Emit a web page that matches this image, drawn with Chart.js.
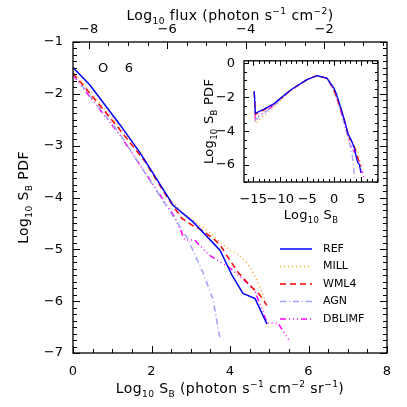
<!DOCTYPE html>
<html>
<head>
<meta charset="utf-8">
<script src="https://cdn.jsdelivr.net/npm/chart.js@4.4.1/dist/chart.umd.min.js"></script>
<style>
html, body { margin: 0; padding: 0; background: #fff; }
#wrap { position: relative; width: 407px; height: 407px; }
#main { position: absolute; left: 0; top: 0; width: 407px; height: 407px; }
#inset { position: absolute; left: 190px; top: 44px; width: 200px; height: 185px; }
</style>
</head>
<body>
<div id="wrap">
  <canvas id="main" width="407" height="407"></canvas>
  <canvas id="inset" width="200" height="185"></canvas>
</div>
<script>
// series (log10 S_B, log10 PDF)
const seriesNames = ["REF", "MILL", "WML4", "AGN", "DBLIMF"];

const refX = [0, 0.43, 1.2, 1.71, 2.47, 2.55, 3.06, 3.75, 4.05, 4.33, 4.64, 4.94];
const refY = [-1.49, -1.83, -2.6, -3.14, -4.05, -4.15, -4.47, -5.02, -5.5, -5.85, -5.95, -6.44];

const millX = [0, 0.77, 1.2, 1.83, 2.42, 2.8, 3.06, 3.41, 3.75, 4.0, 4.25, 4.51, 4.68, 4.89];
const millY = [-1.57, -2.25, -2.65, -3.26, -4.0, -4.3, -4.45, -4.63, -4.86, -5.02, -5.11, -5.34, -5.59, -5.98];

const wml4X = [0, 0.77, 1.2, 1.83, 2.42, 2.77, 3.02, 3.28, 3.62, 3.75, 3.92, 4.2, 4.5, 4.76, 4.94];
const wml4Y = [-1.6, -2.3, -2.7, -3.3, -4.02, -4.4, -4.53, -4.63, -4.82, -4.92, -5.12, -5.44, -5.69, -5.88, -6.08];

const agnX = [0, 1.2, 2.0, 2.6, 2.93, 3.1, 3.32, 3.57, 3.75];
const agnY = [-1.62, -2.78, -3.72, -4.42, -4.8, -5.1, -5.46, -5.97, -6.75];

const dblimfX = [0, 1.2, 1.96, 2.6, 2.85, 3.1, 3.45, 4.0, 4.6, 4.84, 4.94, 5.22, 5.5];
const dblimfY = [-1.64, -2.8, -3.66, -4.39, -4.82, -4.82, -5.1, -5.36, -5.75, -6.2, -6.42, -6.42, -6.75];

// negative S_B part, only seen in the inset
const lowX = [-14.8, -14.6, -13, -11.2, -8.15, -5.06, -3.2, -1.35];
const refLowY = [-1.64, -2.95, -2.7, -2.39, -1.59, -0.96, -0.73, -0.87];
const millLowY = [-1.75, -3.55, -3.1, -2.62, -1.65, -0.98, -0.74, -0.88];
const wml4LowY = [-1.65, -3.0, -2.75, -2.42, -1.6, -0.96, -0.73, -0.87];
const agnLowY = [-1.75, -3.35, -2.95, -2.5, -1.62, -0.97, -0.74, -0.88];
const dblimfLowY = [-1.7, -3.25, -2.9, -2.47, -1.62, -0.97, -0.74, -0.88];

// tick labels
const xTicks = [0, 2, 4, 6, 8];
const fluxTicks = [-8, -6, -4, -2];
const yTicks = [-7, -6, -5, -4, -3, -2, -1];
const insetXTicks = [-15, -10, -5, 0, 5];
const insetYTicks = [-6, -4, -2, 0];

const FLUX_OFFSET = -8.4; // log10 flux = log10 S_B + offset (top axis)

const mainXs = [refX, millX, wml4X, agnX, dblimfX];
const mainYs = [refY, millY, wml4Y, agnY, dblimfY];
const lowYs = [refLowY, millLowY, wml4LowY, agnLowY, dblimfLowY];

const colors = ["#0000ff", "#ffa030", "#ff0000", "#a0a0ff", "#ff00ff"];
const dashes = [[], [1, 3], [6, 4], [6, 3, 1, 3], [6, 3, 1, 3, 1, 3, 1, 3]];

const FONT = "DejaVu Sans";

function toPoints(xs, ys) {
    return xs.map((x, i) => ({ x: x, y: ys[i] }));
}

function fmt(v) {
    const r = Math.round(v * 10) / 10;
    return (r < 0 ? "\u2212" : "") + Math.abs(r);
}

function fixedTicks(list) {
    return scale => { scale.ticks = list.map(v => ({ value: v })); };
}

// draw text with subscripts (1) and superscripts (2)
function richText(ctx, parts, x, y, size, align, spacing) {
    ctx.save();
    ctx.textAlign = "left";
    ctx.textBaseline = "alphabetic";
    if ("letterSpacing" in ctx) ctx.letterSpacing = (spacing || 0) + "px";
    let w = 0;
    parts.forEach(p => {
        ctx.font = (p[1] ? size * 0.65 : size) + "px '" + FONT + "'";
        w += ctx.measureText(p[0]).width;
    });
    let cx = align === "center" ? x - w / 2 : x;
    parts.forEach(p => {
        const s = p[1] ? size * 0.65 : size;
        const dy = p[1] === 1 ? size * 0.28 : p[1] === 2 ? -size * 0.42 : 0;
        ctx.font = s + "px '" + FONT + "'";
        ctx.fillText(p[0], cx, y + dy);
        cx += ctx.measureText(p[0]).width;
    });
    ctx.restore();
}

// frame and inward pointing ticks (IDL style)
function drawFrame(chart, specs) {
    const ctx = chart.ctx;
    const a = chart.chartArea;
    ctx.save();
    ctx.strokeStyle = "#000";
    ctx.lineWidth = 1;
    specs.forEach(sp => {
        const scale = chart.scales[sp.id];
        const start = Math.ceil((scale.min - 1e-9) / sp.minor) * sp.minor;
        for (let v = start; v <= scale.max + 1e-9; v += sp.minor) {
            const isMajor = Math.abs(v / sp.major - Math.round(v / sp.major)) < 1e-6;
            const len = isMajor ? sp.majorLen : sp.minorLen;
            const p = Math.round(scale.getPixelForValue(v)) + 0.5;
            ctx.beginPath();
            if (sp.edge === "bottom") { ctx.moveTo(p, a.bottom); ctx.lineTo(p, a.bottom - len); }
            if (sp.edge === "top") { ctx.moveTo(p, a.top); ctx.lineTo(p, a.top + len); }
            if (sp.edge === "left") { ctx.moveTo(a.left, p); ctx.lineTo(a.left + len, p); }
            if (sp.edge === "right") { ctx.moveTo(a.right, p); ctx.lineTo(a.right - len, p); }
            ctx.stroke();
        }
    });
    ctx.lineWidth = 1.3;
    ctx.strokeRect(a.left, a.top, a.right - a.left, a.bottom - a.top);
    ctx.restore();
}

const tickFont = size => ({ family: FONT, size: size });

// ---------- main plot ----------
const mainPlugin = {
    id: "mainDecor",
    afterDatasetsDraw(chart) {
        drawFrame(chart, [
            { id: "x", edge: "bottom", major: 2, minor: 0.5, majorLen: 7, minorLen: 4 },
            { id: "x2", edge: "top", major: 2, minor: 0.5, majorLen: 7, minorLen: 4 },
            { id: "y", edge: "left", major: 1, minor: 0.125, majorLen: 7, minorLen: 4 },
            { id: "y", edge: "right", major: 1, minor: 0.125, majorLen: 7, minorLen: 4 }
        ]);
        const ctx = chart.ctx;
        const a = chart.chartArea;
        const cx = (a.left + a.right) / 2;
        ctx.fillStyle = "#000";
        richText(ctx, [["Log"], ["10", 1], [" S"], ["B", 1], [" (photon s"], ["\u22121", 2], [" cm"], ["\u22122", 2], [" sr"], ["\u22121", 2], [")"]],
            cx, 393, 14, "center", 0.4);
        richText(ctx, [["Log"], ["10", 1], [" flux (photon s"], ["\u22121", 2], [" cm"], ["\u22122", 2], [")"]],
            cx, 20, 14, "center", 0.4);
        ctx.save();
        ctx.translate(28, (a.top + a.bottom) / 2);
        ctx.rotate(-Math.PI / 2);
        richText(ctx, [["Log"], ["10", 1], [" S"], ["B", 1], [" PDF"]], 0, 0, 14, "center", 0.4);
        ctx.restore();

        // label in the corner
        ctx.save();
        ctx.font = "13px '" + FONT + "'";
        ctx.textAlign = "center";
        ctx.textBaseline = "alphabetic";
        ctx.fillText("O", 103, 72);
        ctx.fillText("6", 129, 72);
        ctx.restore();

        // legend
        ctx.save();
        ctx.font = "11px '" + FONT + "'";
        ctx.textBaseline = "middle";
        chart.data.datasets.forEach((ds, i) => {
            const y = 249 + i * 17.5;
            ctx.strokeStyle = ds.borderColor;
            ctx.lineWidth = ds.borderWidth;
            ctx.setLineDash(ds.borderDash);
            ctx.beginPath();
            ctx.moveTo(280, y);
            ctx.lineTo(312, y);
            ctx.stroke();
            ctx.fillStyle = "#000";
            ctx.fillText(ds.label, 323, y);
        });
        ctx.restore();
    }
};

new Chart(document.getElementById("main"), {
    type: "line",
    data: {
        datasets: seriesNames.map((name, i) => ({
            label: name,
            data: toPoints(mainXs[i], mainYs[i]),
            borderColor: colors[i],
            borderDash: dashes[i],
            borderWidth: 1.5,
            pointRadius: 0,
            tension: 0,
            fill: false
        }))
    },
    options: {
        responsive: false,
        animation: false,
        devicePixelRatio: 1,
        layout: { padding: { right: 20, left: 0, top: 0, bottom: 0 } },
        plugins: { legend: { display: false }, tooltip: { enabled: false } },
        scales: {
            x: {
                type: "linear", position: "bottom", min: 0, max: 8,
                grid: { display: false, drawTicks: false }, border: { display: false },
                ticks: { color: "#000", font: tickFont(13), padding: 11, maxRotation: 0, autoSkip: false, callback: fmt },
                afterBuildTicks: fixedTicks(xTicks),
                afterFit(s) { s.height = 54; }
            },
            x2: {
                type: "linear", position: "top", min: FLUX_OFFSET, max: 8 + FLUX_OFFSET,
                grid: { display: false, drawTicks: false }, border: { display: false },
                ticks: { color: "#000", font: tickFont(13), padding: 5, maxRotation: 0, autoSkip: false, callback: fmt },
                afterBuildTicks: fixedTicks(fluxTicks),
                afterFit(s) { s.height = 42; }
            },
            y: {
                type: "linear", position: "left", min: -7, max: -1,
                grid: { display: false, drawTicks: false }, border: { display: false },
                ticks: { color: "#000", font: tickFont(13), padding: 10, autoSkip: false, callback: fmt },
                afterBuildTicks: fixedTicks(yTicks),
                afterFit(s) { s.width = 73; }
            }
        }
    },
    plugins: [mainPlugin]
});

// ---------- inset ----------
const insetPlugin = {
    id: "insetDecor",
    beforeDatasetsDraw(chart) {
        const a = chart.chartArea;
        chart.ctx.save();
        chart.ctx.fillStyle = "#fff";
        chart.ctx.fillRect(a.left, a.top, a.right - a.left, a.bottom - a.top);
        chart.ctx.restore();
    },
    afterDatasetsDraw(chart) {
        drawFrame(chart, [
            { id: "x", edge: "bottom", major: 5, minor: 1, majorLen: 5, minorLen: 3 },
            { id: "x", edge: "top", major: 5, minor: 1, majorLen: 5, minorLen: 3 },
            { id: "y", edge: "left", major: 2, minor: 0.5, majorLen: 5, minorLen: 3 },
            { id: "y", edge: "right", major: 2, minor: 0.5, majorLen: 5, minorLen: 3 }
        ]);
        const ctx = chart.ctx;
        const a = chart.chartArea;
        ctx.fillStyle = "#000";
        richText(ctx, [["Log"], ["10", 1], [" S"], ["B", 1]], (a.left + a.right) / 2, 175, 13, "center", 0.3);
        ctx.save();
        ctx.translate(23, (a.top + a.bottom) / 2);
        ctx.rotate(-Math.PI / 2);
        richText(ctx, [["Log"], ["10", 1], [" S"], ["B", 1], [" PDF"]], 0, 0, 13, "center", 0.3);
        ctx.restore();
    }
};

new Chart(document.getElementById("inset"), {
    type: "line",
    data: {
        datasets: seriesNames.map((name, i) => ({
            label: name,
            data: toPoints(lowX.concat(mainXs[i]), lowYs[i].concat(mainYs[i])),
            borderColor: colors[i],
            borderDash: dashes[i],
            borderWidth: 1.3,
            pointRadius: 0,
            tension: 0,
            fill: false
        }))
    },
    options: {
        responsive: false,
        animation: false,
        devicePixelRatio: 1,
        layout: { padding: { right: 12, top: 5, left: 0, bottom: 0 } },
        plugins: { legend: { display: false }, tooltip: { enabled: false } },
        scales: {
            x: {
                type: "linear", position: "bottom", min: -16.7, max: 8.1,
                grid: { display: false, drawTicks: false }, border: { display: false },
                ticks: { color: "#000", font: tickFont(13), padding: 10, maxRotation: 0, autoSkip: false, callback: fmt },
                afterBuildTicks: fixedTicks(insetXTicks),
                afterFit(s) { s.height = 47; }
            },
            y: {
                type: "linear", position: "left", min: -7, max: 0.15,
                grid: { display: false, drawTicks: false }, border: { display: false },
                ticks: { color: "#000", font: tickFont(13), padding: 9, autoSkip: false, callback: fmt },
                afterBuildTicks: fixedTicks(insetYTicks),
                afterFit(s) { s.width = 54; }
            }
        }
    },
    plugins: [insetPlugin]
});
</script>
</body>
</html>
